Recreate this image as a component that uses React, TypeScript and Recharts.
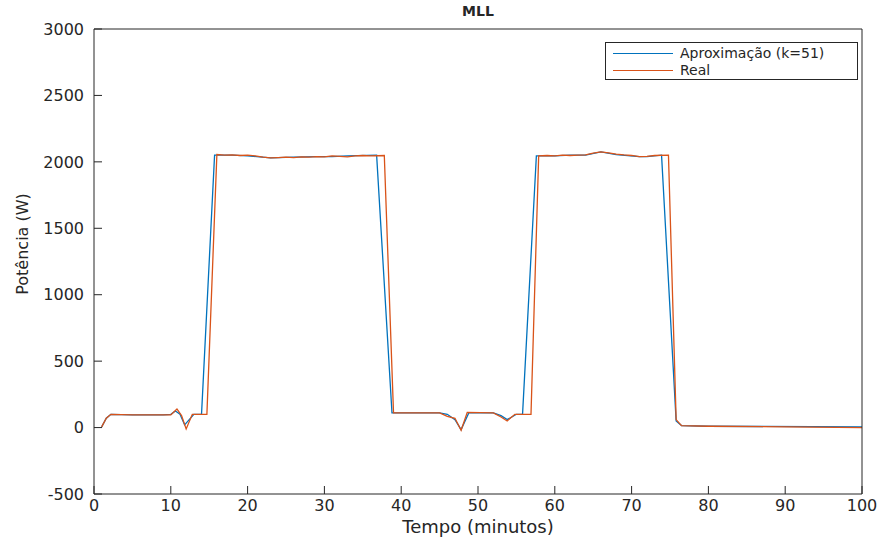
import { Legend, Line, LineChart, XAxis, YAxis } from 'recharts';

const xTicks = [0, 10, 20, 30, 40, 50, 60, 70, 80, 90, 100];
const yTicks = [-500, 0, 500, 1000, 1500, 2000, 2500, 3000];

// Aproximação (k=51)
const approxTime = [
  1, 1.6, 2.2, 5, 9, 10, 10.6, 11.2, 11.8, 12.4, 13, 14, 15.7, 18, 20, 23, 26, 29, 31, 33, 36.8,
  38.8, 42, 45, 46, 47, 47.8, 48.8, 52, 53, 53.8, 55, 55.8, 57.6, 60, 62, 64, 66, 68, 71, 72, 73.9,
  75.8, 76.5, 80, 100,
];
const approxPower = [
  5, 70, 100, 95, 95, 100, 125, 100, 20, 60, 100, 100, 2050, 2050, 2045, 2030, 2035, 2040, 2040, 2045, 2050,
  110, 110, 110, 100, 60, -15, 110, 110, 90, 60, 100, 100, 2045, 2045, 2050, 2050, 2075, 2055, 2040, 2040, 2050,
  50, 15, 10, 5,
];

// Real
const realTime = [
  1, 1.6, 2.2, 5, 9, 10, 10.8, 11.4, 12, 12.8, 14.7, 16, 17, 18, 19, 20, 21, 22, 23, 24, 25, 26, 27, 28, 29,
  30, 31, 32, 33, 34, 35, 36, 37.8, 39, 45, 46, 47, 47.8, 48.6, 52, 53, 53.8, 54.8, 56.9, 57.9, 59, 60, 61,
  62, 63, 64, 65, 66, 67, 68, 69, 70, 71, 72, 73, 74.8, 75.8, 76.5, 80, 100,
];
const realPower = [
  5, 70, 100, 95, 95, 95, 140, 90, -10, 100, 100, 2055, 2050, 2052, 2048, 2050, 2045, 2035, 2030, 2032, 2035,
  2032, 2038, 2036, 2040, 2038, 2045, 2042, 2038, 2045, 2048, 2045, 2048, 110, 110, 85, 70, -20, 115, 110, 80,
  50, 100, 100, 2045, 2048, 2045, 2050, 2048, 2050, 2052, 2065, 2075, 2068, 2058, 2052, 2048, 2040, 2042, 2048,
  2050, 60, 15, 10, 0,
];

const toPoints = (t: number[], v: number[]) => t.map((time, i) => ({ time, power: v[i] }));
const approxData = toPoints(approxTime, approxPower);
const realData = toPoints(realTime, realPower);

const ink = '#262626';

function LegendBox({ payload }: any) {
  return (
    <div
      style={{
        border: `1px solid ${ink}`,
        background: '#fff',
        width: 253,
        height: 38,
        paddingTop: 2,
        boxSizing: 'border-box',
      }}
    >
      {(payload || []).map((entry: any) => (
        <div key={entry.value} style={{ display: 'flex', alignItems: 'center', height: 17 }}>
          <span style={{ width: 60, height: 0, borderTop: `1.3px solid ${entry.color}`, marginLeft: 7, marginRight: 7 }} />
          <span style={{ fontSize: 14, color: ink, lineHeight: '17px', whiteSpace: 'nowrap' }}>{entry.value}</span>
        </div>
      ))}
    </div>
  );
}

export default function App() {
  return (
    <div style={{ position: 'absolute', left: 0, top: 0, width: 883, height: 542, background: '#fff', fontFamily: 'DejaVu Sans' }}>
      <LineChart width={883} height={542} margin={{ top: 28, right: 20, bottom: 0, left: 0 }}>
        {/* negative tickSize: MATLAB-style ticks pointing into the plot */}
        <XAxis
          type="number"
          dataKey="time"
          domain={[0, 100]}
          ticks={xTicks}
          height={48}
          tickSize={-8}
          tickMargin={14}
          stroke={ink}
          tick={{ fontSize: 16, fill: ink }}
          label={{ value: 'Tempo (minutos)', position: 'insideBottom', offset: 9, fontSize: 18, fill: ink }}
        />
        <YAxis
          type="number"
          domain={[-500, 3000]}
          ticks={yTicks}
          width={94}
          tickSize={-8}
          tickMargin={18}
          stroke={ink}
          tick={{ fontSize: 16, fill: ink }}
        />
        {/* top and right axes close the box (1px wide so they get drawn) */}
        <XAxis xAxisId="top" orientation="top" type="number" domain={[0, 100]} ticks={xTicks} height={1} tickSize={-8} tick={false} stroke={ink} />
        <YAxis yAxisId="right" orientation="right" type="number" domain={[-500, 3000]} ticks={yTicks} width={1} tickSize={-8} tick={false} stroke={ink} />
        <Legend
          layout="vertical"
          align="center"
          verticalAlign="middle"
          content={<LegendBox />}
          wrapperStyle={{ left: 605, top: 42, width: 253 }}
        />
        <Line
          data={approxData}
          dataKey="power"
          name="Aproximação (k=51)"
          type="linear"
          stroke="#0072BD"
          strokeWidth={1.3}
          dot={false}
          isAnimationActive={false}
        />
        <Line
          data={realData}
          dataKey="power"
          name="Real"
          type="linear"
          stroke="#D95319"
          strokeWidth={1.3}
          dot={false}
          isAnimationActive={false}
        />
        <text x={478} y={16} textAnchor="middle" fontSize={14} fontWeight="bold" fill={ink}>
          MLL
        </text>
        <text transform="translate(28,244) rotate(-90)" textAnchor="middle" fontSize={16} fill={ink}>
          Potência (W)
        </text>
      </LineChart>
    </div>
  );
}
